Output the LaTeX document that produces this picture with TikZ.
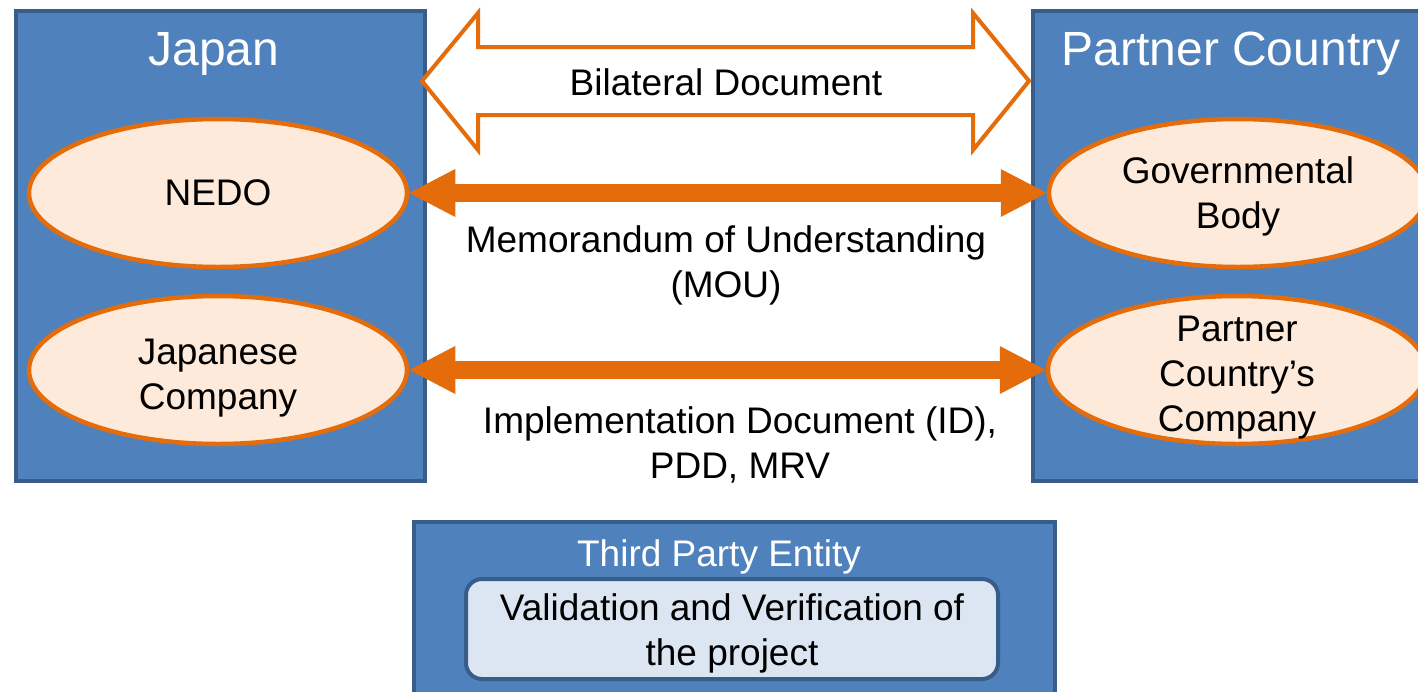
\documentclass[tikz,border=0pt]{standalone}
\usepackage{fontspec}
\setmainfont{Liberation Sans}
\usetikzlibrary{shapes.geometric,arrows.meta,calc}
\definecolor{boxblue}{HTML}{4F81BD}
\definecolor{boxedge}{HTML}{385D8A}
\definecolor{orng}{HTML}{E46C0A}
\definecolor{peach}{HTML}{FDEADA}
\definecolor{pale}{HTML}{DCE6F2}
\newcommand{\lift}[1]{\rule{0pt}{#1pt}}
\begin{document}
\begin{tikzpicture}[x=1pt,y=-1pt,
  panel/.style={draw=boxedge,fill=boxblue,line width=4pt,inner sep=0pt},
  oval/.style={ellipse,draw=orng,fill=peach,line width=4.5pt,minimum width=378pt,minimum height=148pt,inner xsep=0pt,inner ysep=-40pt,align=center,font=\fontsize{37}{45}\selectfont},
  title/.style={text=white,inner sep=0pt,font=\fontsize{48}{56}\selectfont},
  lbl/.style={align=center,inner sep=0pt,font=\fontsize{37}{45}\selectfont},
  bigarrow/.style={draw=orng,line width=18pt,{Triangle[length=46pt,width=48pt,line width=0pt]}-{Triangle[length=46pt,width=48pt,line width=0pt]}},
  hollow/.style={draw=orng,fill=white,line width=4pt,line join=miter}
]
\useasboundingbox (0,0) rectangle (1418,691);
\clip (0,0) rectangle (1418,691);
\fill[white] (0,0) rectangle (1418,691);

% panels
\node[panel,minimum width=409pt,minimum height=470pt,anchor=north west] (japan) at (14,9) {};
\node[panel,minimum width=420pt,minimum height=470pt,anchor=north west] (partner) at (1031,9) {};
\node[panel,minimum width=641pt,minimum height=200pt,anchor=north west] (third) at (412,520) {};

% titles
\node[title,anchor=base] (jt) at (214,65) {Japan};
\node[title,anchor=base] (pt) at (1231,65) {Partner Country};
\node[title,anchor=base,font=\fontsize{37}{45}\selectfont] (tt) at (719,566) {Third Party Entity};

% ellipses
\node[oval] (nedo) at (218,193) {NEDO};
\node[oval] (jcomp) at (218,370) {\lift{41}Japanese\\Company};
\node[oval] (gov) at (1238,193) {\lift{33}Governmental\\Body};
\node[oval] (pcomp) at (1237,370) {\lift{41}Partner\\Country’s\\Company};

% inner box
\node[draw=boxedge,fill=pale,line width=4pt,rounded corners=16pt,minimum width=532pt,minimum height=100pt,align=center,inner sep=0pt,font=\fontsize{37}{45}\selectfont] (vv) at (732,629) {\lift{36}Validation and Verification of\\the project};

% hollow double arrow
\coordinate (lt) at (422,81);
\coordinate (rt) at (1029,81);
\draw[hollow] (lt) -- ++(56,-68) -- ++(0,34) -- ($(rt)+(-56,-34)$) -- ++(0,-34) -- (rt)
  -- ++(-56,69) -- ++(0,-35) -- ($(lt)+(56,34)$) -- ++(0,35) -- cycle;
\node[lbl] (bd) at (726,82) {Bilateral Document};

% solid arrows
\draw[bigarrow] (nedo.east) -- (gov.west);
\draw[bigarrow] (jcomp.east) -- (pcomp.west);

\node[lbl] (mou) at (726,265) {Memorandum of Understanding\\(MOU)};
\node[lbl] (idl) at (740,445) {Implementation Document (ID),\\PDD, MRV};
\end{tikzpicture}
\end{document}
